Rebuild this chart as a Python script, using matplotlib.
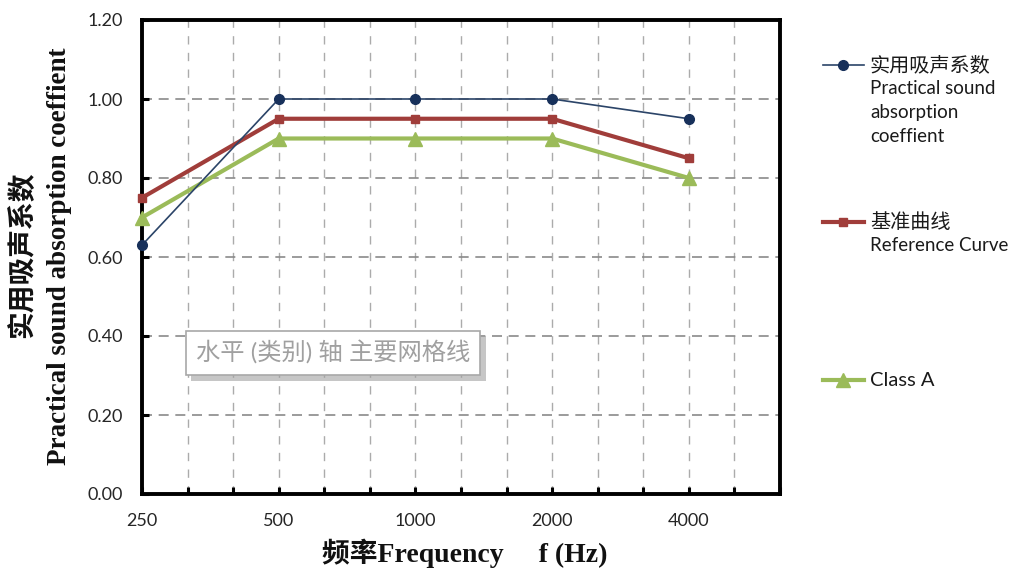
import numpy as np
import matplotlib
matplotlib.use("Agg")
import matplotlib.pyplot as plt
import matplotlib.patheffects as pe
from matplotlib.lines import Line2D

# 频率 (类别轴)
freq_labels = ["250", "500", "1000", "2000", "4000"]

practical = [0.63, 1.00, 1.00, 1.00, 0.95]
reference = [0.75, 0.95, 0.95, 0.95, 0.85]
class_a = [0.70, 0.90, 0.90, 0.90, 0.80]

y_ticks = [0.0, 0.2, 0.4, 0.6, 0.8, 1.0, 1.2]

legend_entries = [
    ("实用吸声系数", ["Practical sound", "absorption", "coeffient"]),
    ("基准曲线", ["Reference Curve"]),
    ("Class A", []),
]

BLUE_LINE = "#2B4468"
BLUE_MARK = "#17305A"
RED = "#A03D3A"
GREEN = "#9BBB59"

SANS = ["Lato", "Noto Sans CJK SC", "DejaVu Sans"]
SERIF = ["Liberation Serif", "Noto Sans CJK SC", "DejaVu Sans"]

W, H = 1021, 572
fig = plt.figure(figsize=(W / 100, H / 100), dpi=100)
ax = fig.add_axes([142 / W, 1 - 494 / H, 638 / W, 474 / H])

x = np.arange(len(freq_labels))
ax.plot(x, practical, color=BLUE_LINE, lw=1.2, marker="o", ms=7,
        mfc=BLUE_MARK, mec=BLUE_MARK, zorder=5, clip_on=False)
ax.plot(x, reference, color=RED, lw=3, marker="s", ms=6,
        mfc=RED, mec=RED, zorder=4, clip_on=False)
ax.plot(x, class_a, color=GREEN, lw=3, marker="^", ms=10,
        mfc=GREEN, mec=GREEN, zorder=3, clip_on=False)

n_sub = 3
x_max = (len(freq_labels) - 1) + 2 / n_sub
ax.set_xlim(0, x_max)
ax.set_ylim(0, 1.2)

# 每个类别之间三个刻度
tick_pos = np.arange(0, x_max + 1e-6, 1 / n_sub)
tick_lab = [freq_labels[int(round(t))] if abs(t - round(t)) < 1e-6 else "" for t in tick_pos]
ax.set_xticks(tick_pos)
ax.set_xticklabels(tick_lab)
ax.set_yticks(y_ticks)
ax.set_yticklabels([f"{v:.2f}" for v in y_ticks])

for xv in tick_pos[1:-1]:
    ax.axvline(xv, color="#ABABAB", lw=1.0, dashes=(6, 6), zorder=1)
for yv in y_ticks[1:-1]:
    ax.axhline(yv, color="#8A8A8A", lw=1.2, dashes=(6, 4), zorder=1)

ax.tick_params(axis="both", direction="in", length=5, width=2.2, color="black",
               labelsize=13, labelcolor="#262626")
ax.tick_params(axis="x", pad=14)
ax.tick_params(axis="y", pad=14)
for lab in ax.get_xticklabels() + ax.get_yticklabels():
    lab.set_family(SANS)

for sp in ax.spines.values():
    sp.set_linewidth(2.8)
    sp.set_color("black")

# 坐标轴标题 (两行分开放)
fig.text(24 / W, 1 - 255 / H, "实用吸声系数", rotation=90, ha="center", va="center",
         fontsize=20, fontweight="bold", family=SERIF, color="#111111")
fig.text(60 / W, 1 - 256 / H, "Practical sound absorption coeffient", rotation=90,
         ha="center", va="center", fontsize=19.5, fontweight="bold", family=SERIF,
         color="#111111")
fig.text(465 / W, 1 - 553 / H, "频率Frequency     f (Hz)",
         ha="center", va="center", fontsize=20, fontweight="bold",
         family=SERIF, color="#111111")

# 提示框
tip = ax.text((196 - 142) / 638, (494 - 353) / 474, "水平 (类别) 轴 主要网格线",
              transform=ax.transAxes, ha="left", va="center", fontsize=17.5,
              family=SANS, color="#A0A0A0", zorder=10,
              bbox=dict(boxstyle="square,pad=0.42", fc="white", ec="#A8A8A8", lw=1.2))
tip.get_bbox_patch().set_path_effects([
    pe.SimplePatchShadow(offset=(4, -4), shadow_rgbFace="#A0A0A0", alpha=0.6),
    pe.Normal(),
])

# 图例 (手动放置)
handle_styles = [
    dict(color=BLUE_LINE, lw=1.2, marker="o", ms=7, mfc=BLUE_MARK, mec=BLUE_MARK),
    dict(color=RED, lw=3, marker="s", ms=6, mfc=RED, mec=RED),
    dict(color=GREEN, lw=3, marker="^", ms=10, mfc=GREEN, mec=GREEN),
]
entry_y = [65, 222, 380]
line_step = 24
for (first, rest), style, yy in zip(legend_entries, handle_styles, entry_y):
    yf = 1 - yy / H
    fig.add_artist(Line2D([823 / W, 864 / W], [yf, yf], transform=fig.transFigure,
                          markevery=[], **style))
    fig.add_artist(Line2D([843 / W], [yf], transform=fig.transFigure,
                          ls="none", **{k: v for k, v in style.items() if k not in ("lw", "color")},
                          color=style["color"]))
    fig.text(870 / W, yf, first, ha="left", va="center", fontsize=14.5,
             family=SANS, color="#1a1a1a")
    for i, line in enumerate(rest, start=1):
        fig.text(870 / W, 1 - (yy + i * line_step) / H, line, ha="left", va="center",
                 fontsize=13.5, family=SANS, color="#1a1a1a")

fig.savefig("out.png", dpi=100, facecolor="white")
